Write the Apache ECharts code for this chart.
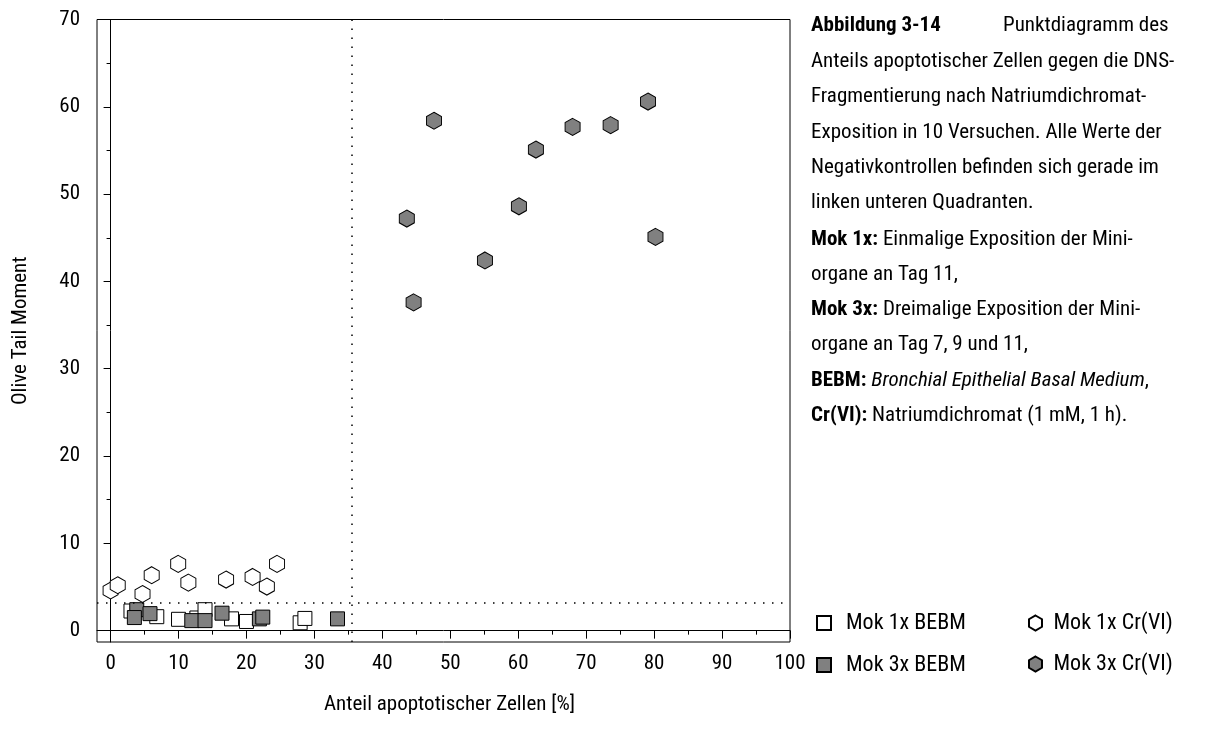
<!DOCTYPE html>
<html>
<head>
<meta charset="utf-8">
<script src="https://cdn.jsdelivr.net/npm/echarts@6/dist/echarts.min.js"></script>
<style>
html,body{margin:0;padding:0;background:#fff;}
#chart{width:1207px;height:742px;}
</style>
</head>
<body>
<div id="chart"></div>
<script>
// ---------- data ----------
const xTickLabels = [0, 10, 20, 30, 40, 50, 60, 70, 80, 90, 100];
const xMinorTicks = [5, 15, 25, 35, 45, 55, 65, 75, 85, 95];
const yTickLabels = [0, 10, 20, 30, 40, 50, 60, 70];
const yMinorTicks = [5, 15, 25, 35, 45, 55, 65];

const mok1xBebmX = [3.0, 6.8, 10.0, 12.7, 13.9, 17.8, 20.0, 27.9, 28.6];
const mok1xBebmY = [2.25, 1.6, 1.3, 1.45, 2.4, 1.35, 1.05, 0.9, 1.4];

const mok3xBebmX = [3.85, 3.5, 5.8, 11.95, 13.9, 16.4, 21.9, 22.4, 33.4];
const mok3xBebmY = [2.4, 1.5, 1.95, 1.15, 1.15, 2.0, 1.35, 1.55, 1.35];

const mok1xCrX = [0.0, 1.05, 4.7, 6.05, 9.95, 11.45, 17.0, 20.9, 23.0, 24.5];
const mok1xCrY = [4.6, 5.2, 4.2, 6.35, 7.65, 5.5, 5.85, 6.15, 5.05, 7.65];

const mok3xCrX = [47.6, 43.6, 44.6, 55.1, 60.1, 62.6, 68.0, 73.6, 79.1, 80.2];
const mok3xCrY = [58.4, 47.2, 37.6, 42.4, 48.6, 55.1, 57.7, 57.9, 60.6, 45.1];

const thresholdX = 35.5;
const thresholdY = 3.25;

const seriesNames = ['Mok 1x BEBM', 'Mok 3x BEBM', 'Mok 1x Cr(VI)', 'Mok 3x Cr(VI)'];

const captionLines = [
  '{b|Abbildung 3-14}',
  'Anteils apoptotischer Zellen gegen die DNS-',
  'Fragmentierung nach Natriumdichromat-',
  'Exposition in 10 Versuchen. Alle Werte der',
  'Negativkontrollen befinden sich gerade im',
  'linken unteren Quadranten.',
  '{b|Mok 1x:} Einmalige Exposition der Mini-',
  'organe an Tag 11,',
  '{b|Mok 3x:} Dreimalige Exposition der Mini-',
  'organe an Tag 7, 9 und 11,',
  '{b|BEBM:} {i|Bronchial Epithelial Basal Medium},',
  '{b|Cr(VI):} Natriumdichromat (1 mM, 1 h).'
];
const captionTitleRest = 'Punktdiagramm des';

// ---------- styling ----------
const FONT = '"Roboto Condensed", "Liberation Sans Narrow", sans-serif';
const FS = 21;
const HEX = 'path://M50,0 L93.3,25 L93.3,75 L50,100 L6.7,75 L6.7,25 Z';
const GREY = '#808080';
const captionY = [26, 62, 97, 133, 168, 203, 240, 275, 310, 345, 381, 416];

function pairs(xs, ys) { return xs.map((x, i) => [x, ys[i]]); }

const chart = echarts.init(document.getElementById('chart'), null, {renderer: 'canvas'});

const baseAxisX = {
  type: 'value', min: -2, max: 100, position: 'bottom', gridIndex: 0,
  splitLine: {show: false}
};
const baseAxisY = {
  type: 'value', min: -1.3, max: 70, position: 'left', gridIndex: 0,
  splitLine: {show: false}
};

const richStyles = {
  b: {fontWeight: 'bold', fontSize: FS, fontFamily: FONT, fill: '#000'},
  i: {fontStyle: 'italic', fontSize: FS, fontFamily: FONT, fill: '#000'}
};
const graphics = captionLines.map((t, k) => ({
  type: 'text', x: 811, y: captionY[k],
  style: {
    text: t, fill: '#000', fontSize: FS, fontFamily: FONT,
    verticalAlign: 'middle', align: 'left', rich: richStyles
  }
}));
graphics.push({
  type: 'text', x: 1003, y: captionY[0],
  style: {text: captionTitleRest, fill: '#000', fontSize: FS, fontFamily: FONT,
          verticalAlign: 'middle', align: 'left'}
});

const option = {
  animation: false,
  backgroundColor: '#fff',
  textStyle: {fontFamily: FONT, color: '#000'},
  grid: {left: 97, top: 19.5, right: 417, bottom: 100, show: true,
         borderColor: '#000', borderWidth: 1, backgroundColor: 'transparent'},
  xAxis: [
    Object.assign({}, baseAxisX, {
      name: 'Anteil apoptotischer Zellen [%]', nameLocation: 'middle', nameGap: 52,
      nameTextStyle: {fontSize: FS, fontFamily: FONT, color: '#000', padding: [0, 0, 0, 12]},
      axisLine: {show: true, lineStyle: {color: '#000', width: 1}},
      axisTick: {show: true, length: 8, inside: false, customValues: xTickLabels,
                 lineStyle: {color: '#000', width: 1}},
      axisLabel: {show: true, customValues: xTickLabels, margin: 11,
                  fontSize: FS, fontFamily: FONT, color: '#000'}
    }),
    Object.assign({}, baseAxisX, {
      axisLine: {show: false},
      axisTick: {show: true, length: 4, customValues: xMinorTicks,
                 lineStyle: {color: '#000', width: 1}},
      axisLabel: {show: false}
    })
  ],
  yAxis: [
    Object.assign({}, baseAxisY, {
      name: 'Olive Tail Moment', nameLocation: 'middle', nameGap: 66,
      nameTextStyle: {fontSize: FS, fontFamily: FONT, color: '#000'},
      axisLine: {show: true, lineStyle: {color: '#000', width: 1}},
      axisTick: {show: true, length: 7, customValues: yTickLabels,
                 lineStyle: {color: '#000', width: 1}},
      axisLabel: {show: true, customValues: yTickLabels, margin: 17,
                  fontSize: FS, fontFamily: FONT, color: '#000'}
    }),
    Object.assign({}, baseAxisY, {
      axisLine: {show: false},
      axisTick: {show: true, length: 4, customValues: yMinorTicks,
                 lineStyle: {color: '#000', width: 1}},
      axisLabel: {show: false}
    })
  ],
  legend: [
    {
      data: [{name: seriesNames[0], icon: 'rect'}, {name: seriesNames[1], icon: 'rect'}],
      orient: 'vertical', left: 811, top: 607, itemWidth: 14, itemHeight: 14,
      itemGap: 20, selectedMode: false,
      textStyle: {fontSize: 22, fontFamily: FONT, color: '#000', padding: [0, 0, 0, 10]}
    },
    {
      data: [{name: seriesNames[2], icon: HEX}, {name: seriesNames[3], icon: HEX}],
      orient: 'vertical', left: 1023, top: 607, itemWidth: 14, itemHeight: 15,
      itemGap: 19, selectedMode: false,
      textStyle: {fontSize: 22, fontFamily: FONT, color: '#000', padding: [0, 0, 0, 6]}
    }
  ],
  graphic: graphics,
  series: [
    {
      name: seriesNames[0], type: 'scatter', xAxisIndex: 0, yAxisIndex: 0,
      symbol: 'rect', symbolSize: 14,
      itemStyle: {color: '#fff', borderColor: '#000', borderWidth: 1, opacity: 1},
      data: pairs(mok1xBebmX, mok1xBebmY),
      markLine: {
        silent: true, symbol: 'none', animation: false,
        label: {show: false},
        lineStyle: {color: '#000', width: 1.5, type: [1.5, 7.5]},
        data: [{xAxis: thresholdX}, {yAxis: thresholdY}]
      }
    },
    {
      name: seriesNames[1], type: 'scatter', xAxisIndex: 0, yAxisIndex: 0,
      symbol: 'rect', symbolSize: 14,
      itemStyle: {color: GREY, borderColor: '#000', borderWidth: 1, opacity: 1},
      data: pairs(mok3xBebmX, mok3xBebmY)
    },
    {
      name: seriesNames[2], type: 'scatter', xAxisIndex: 0, yAxisIndex: 0,
      symbol: HEX, symbolSize: [15, 17],
      itemStyle: {color: '#fff', borderColor: '#000', borderWidth: 1, opacity: 1},
      data: pairs(mok1xCrX, mok1xCrY)
    },
    {
      name: seriesNames[3], type: 'scatter', xAxisIndex: 0, yAxisIndex: 0,
      symbol: HEX, symbolSize: [15, 17],
      itemStyle: {color: GREY, borderColor: '#000', borderWidth: 1, opacity: 1},
      data: pairs(mok3xCrX, mok3xCrY)
    }
  ]
};
chart.setOption(option);
</script>
</body>
</html>
